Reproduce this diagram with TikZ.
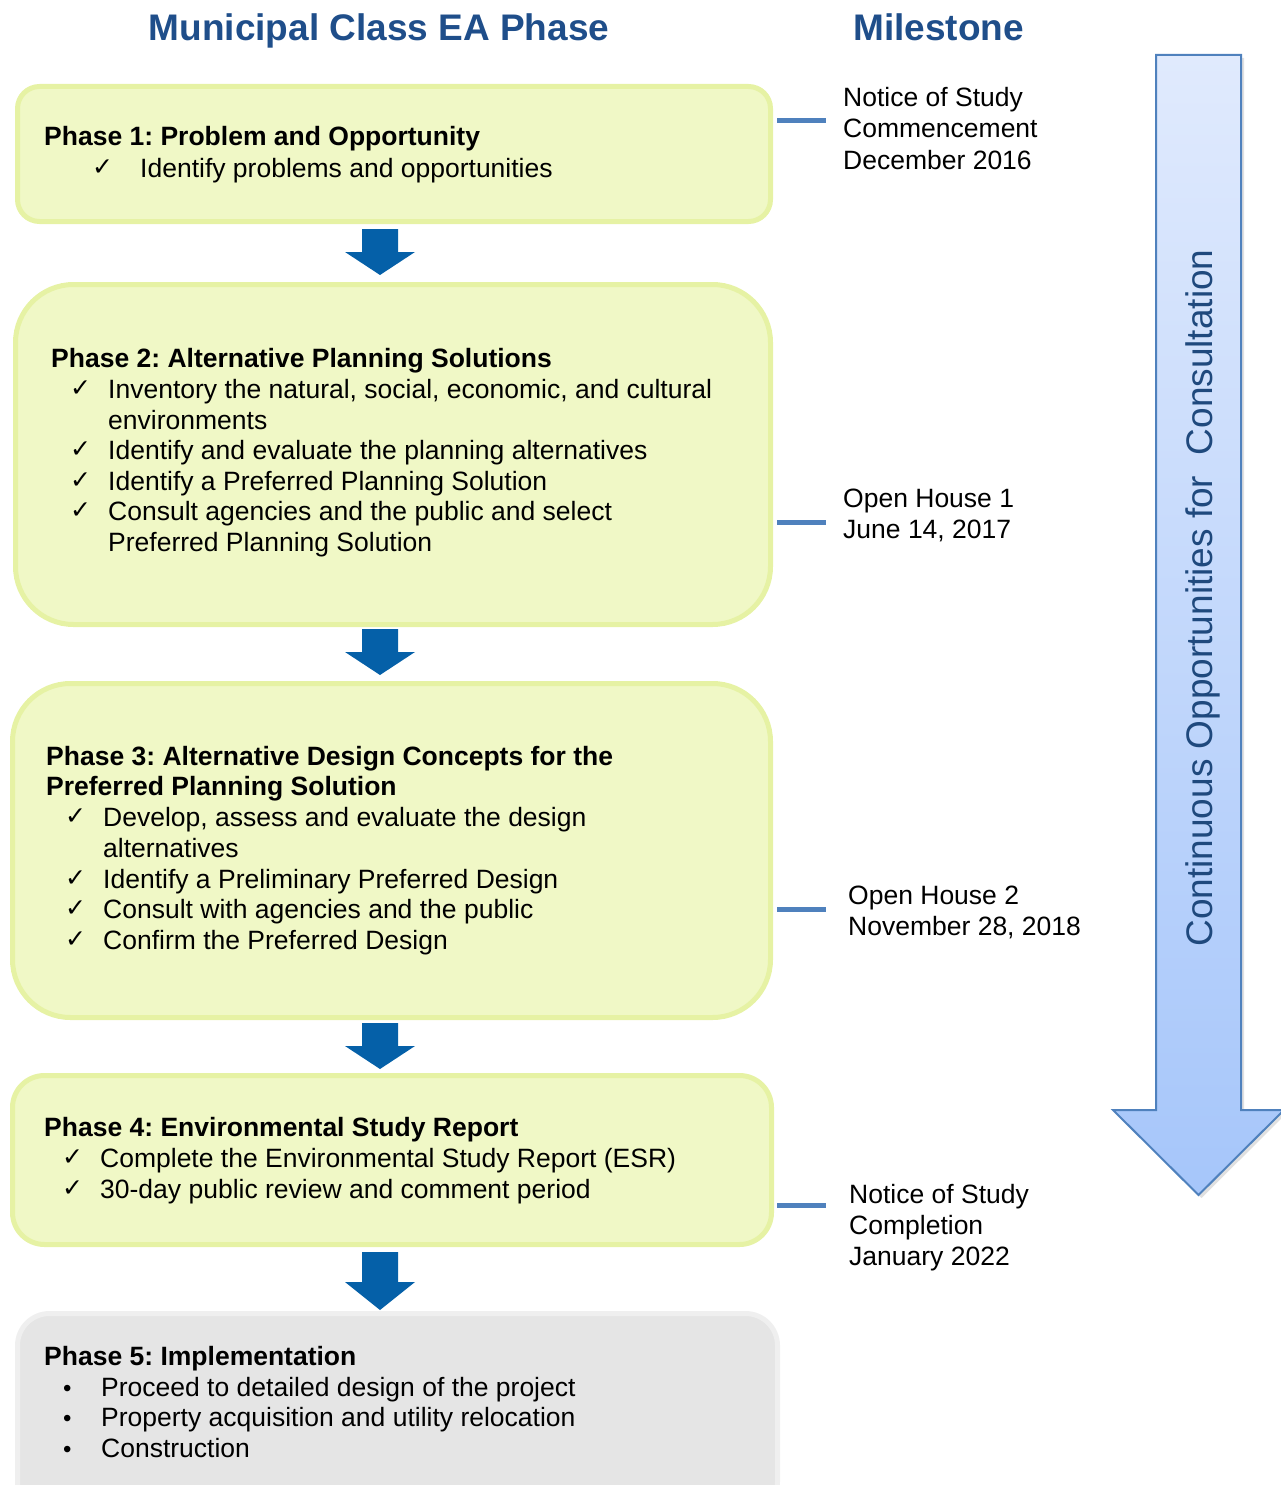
\documentclass[tikz,border=0pt]{standalone}
\usepackage{fontspec}
\setmainfont{Liberation Sans}
\newfontfamily\dejavu{DejaVu Sans}
\frenchspacing
\definecolor{titleblue}{HTML}{1F4E8A}
\definecolor{boxfill}{HTML}{F0F8C6}
\definecolor{boxline}{HTML}{E6F2A4}
\definecolor{greyfill}{HTML}{E5E5E5}
\definecolor{greyline}{HTML}{EFEFEF}
\definecolor{arrowblue}{HTML}{0560A8}
\definecolor{tickblue}{HTML}{4F81BD}
\definecolor{bigtop}{HTML}{E0EAFD}
\definecolor{bigbot}{HTML}{A6C6FA}
\definecolor{bigline}{HTML}{4F81BD}
\definecolor{constext}{HTML}{1F497D}
\newcommand\blockarr[3]{%
  \fill[arrowblue] (362,#1) -- (398,#1) -- (398,#2) -- (415,#2) -- (380,#3) -- (345,#2) -- (362,#2) -- cycle;}
\begin{document}
\begin{tikzpicture}[x=1pt,y=-1pt,
  body/.style={inner sep=0pt, anchor=base west, font=\fontsize{26.5}{30}\selectfont\frenchspacing},
  hd/.style={inner sep=0pt, anchor=base west, font=\fontsize{26.5}{30}\selectfont\bfseries\frenchspacing},
  ttl/.style={inner sep=0pt, anchor=base, text=titleblue, font=\fontsize{37}{40}\selectfont\bfseries},
  chk/.style={inner sep=0pt, anchor=base west, font=\dejavu\fontsize{25}{28}\selectfont},
  bul/.style={inner sep=0pt, anchor=base west, font=\fontsize{24}{30}\selectfont},
  phasebox/.style={draw=boxline, fill=boxfill, line width=5pt, anchor=north west, inner sep=0pt},
  greybox/.style={draw=greyline, fill=greyfill, line width=5pt, anchor=north west, inner sep=0pt},
  tick/.style={draw=tickblue, line width=5pt},
]
\useasboundingbox (0,0) rectangle (1281,1485);

% titles
\node[ttl] (t1) at (379,41) {Municipal Class EA Phase};
\node[ttl] (t2) at (938.5,41) {Milestone};

% boxes
\node[phasebox, rounded corners=22, minimum width=753, minimum height=135] (b1) at (15,84) {};
\node[phasebox, rounded corners=58, minimum width=755, minimum height=340] (b2) at (13,282) {};
\node[phasebox, rounded corners=58, minimum width=758, minimum height=334] (b3) at (10,681) {};
\node[phasebox, rounded corners=32, minimum width=759, minimum height=169] (b4) at (10,1073) {};
\node[greybox, rounded corners=32, minimum width=760, minimum height=200] (b5) at (15,1311) {};

% block arrows
\blockarr{229}{252}{275}
\blockarr{629}{652}{675}
\blockarr{1023}{1046}{1069}
\blockarr{1252}{1282}{1310}

% Phase 1
\node[hd] (p1h) at (44,146) {Phase 1: Problem and Opportunity};
\node[chk] (p1c) at (92,175) {✓};
\node[body] (p1a) at (140,177) {Identify problems and opportunities};

% Phase 2
\node[hd] (p2h) at (51,367) {Phase 2: Alternative Planning Solutions};
\node[chk] (p2c1) at (70,396) {✓};
\node[body] (p2a) at (108,398) {Inventory the natural, social, economic, and cultural};
\node[body] (p2b) at (108,429) {environments};
\node[chk] (p2c2) at (70,457) {✓};
\node[body] (p2c) at (108,459) {Identify and evaluate the planning alternatives};
\node[chk] (p2c3) at (70,488) {✓};
\node[body] (p2d) at (108,490) {Identify a Preferred Planning Solution};
\node[chk] (p2c4) at (70,518) {✓};
\node[body] (p2e) at (108,520) {Consult agencies and the public and select};
\node[body] (p2f) at (108,551) {Preferred Planning Solution};

% Phase 3
\node[hd] (p3h) at (46,765) {Phase 3: Alternative Design Concepts for the};
\node[hd] (p3h2) at (46,795) {Preferred Planning Solution};
\node[chk] (p3c1) at (65,824) {✓};
\node[body] (p3a) at (103,826) {Develop, assess and evaluate the design};
\node[body] (p3b) at (103,857) {alternatives};
\node[chk] (p3c2) at (65,886) {✓};
\node[body] (p3c) at (103,888) {Identify a Preliminary Preferred Design};
\node[chk] (p3c3) at (65,916) {✓};
\node[body] (p3d) at (103,918) {Consult with agencies and the public};
\node[chk] (p3c4) at (65,947) {✓};
\node[body] (p3e) at (103,949) {Confirm the Preferred Design};

% Phase 4
\node[hd] (p4h) at (44,1136) {Phase 4: Environmental Study Report};
\node[chk] (p4c1) at (62,1165) {✓};
\node[body] (p4a) at (100,1167) {Complete the Environmental Study Report (ESR)};
\node[chk] (p4c2) at (62,1196) {✓};
\node[body] (p4b) at (100,1198) {30-day public review and comment period};

% Phase 5
\node[hd] (p5h) at (44,1365) {Phase 5: Implementation};
\node[bul] (p5c1) at (63,1396) {•};
\node[body] (p5a) at (101,1396) {Proceed to detailed design of the project};
\node[bul] (p5c2) at (63,1426) {•};
\node[body] (p5b) at (101,1426) {Property acquisition and utility relocation};
\node[bul] (p5c3) at (63,1457) {•};
\node[body] (p5d) at (101,1457) {Construction};

% milestone ticks
\draw[tick] (777,121) -- (826,121);
\draw[tick] (777,522) -- (826,522);
\draw[tick] (777,909) -- (826,909);
\draw[tick] (777,1205) -- (826,1205);

% milestone texts
\node[body] (m1a) at (843,107) {Notice of Study};
\node[body] (m1b) at (843,138) {Commencement};
\node[body] (m1c) at (843,169) {December 2016};
\node[body] (m2a) at (843,507) {Open House 1};
\node[body] (m2b) at (843,538) {June 14, 2017};
\node[body] (m3a) at (848,904) {Open House 2};
\node[body] (m3b) at (848,935) {November 28, 2018};
\node[body] (m4a) at (849,1203) {Notice of Study};
\node[body] (m4b) at (849,1234) {Completion};
\node[body] (m4c) at (849,1265) {January 2022};

% big consultation arrow
\fill[black, opacity=0.12] (1159,58) -- (1244,58) -- (1244,1113) -- (1287,1113) -- (1201.5,1198) -- (1116,1113) -- (1159,1113) -- cycle;
\draw[bigline, line width=2pt, top color=bigtop, bottom color=bigbot]
  (1156,55) -- (1241,55) -- (1241,1110) -- (1284,1110) -- (1198.5,1195) -- (1113,1110) -- (1156,1110) -- cycle;
\node[rotate=90, anchor=base, inner sep=0pt, text=constext, font=\fontsize{37}{40}\selectfont] (cons) at (1212,598) {Continuous Opportunities for\hspace{0.278em}\ Consultation};
\end{tikzpicture}
\end{document}
